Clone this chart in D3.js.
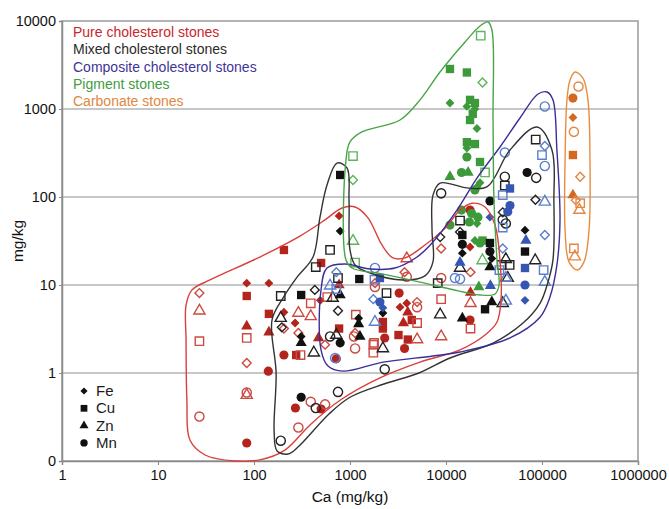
<!DOCTYPE html>
<html><head><meta charset="utf-8">
<script src="https://cdn.jsdelivr.net/npm/d3@7"></script>
<style>
html,body{margin:0;padding:0;background:#fff;}
svg{display:block;font-family:"Liberation Sans",Arial,sans-serif;}
</style></head>
<body><svg id="c" width="669" height="509"></svg>
<script>
// ---- data: [Ca mg/kg, value mg/kg, element, filled]
const pureChol = [
[27,8.1,"Fe",0],[27,5.1,"Zn",0],[27,2.3,"Cu",0],[27,0.32,"Mn",0],
[84,10.5,"Fe",1],[84,7.5,"Cu",1],[84,3.4,"Zn",1],[84,2.5,"Cu",0],[84,1.3,"Fe",0],[84,0.6,"Mn",0],[84,0.56,"Zn",0],[84,0.16,"Mn",1],
[141,1.05,"Mn",1],[270,0.40,"Mn",1],[290,0.24,"Mn",0],[390,0.47,"Mn",0],[500,0.39,"Mn",1],[550,0.44,"Mn",0],
[770,61,"Fe",1],[205,25,"Cu",1],[500,17.8,"Cu",1],[143,10.5,"Fe",1],[143,4.7,"Cu",1],[205,4.9,"Fe",1],[268,3.7,"Fe",1],
[290,4.8,"Zn",0],[390,6.2,"Cu",0],[390,4.4,"Zn",0],[490,6.7,"Fe",1],[143,2.9,"Zn",1],[290,2.85,"Fe",0],[470,2.5,"Zn",1],
[550,2.1,"Fe",0],[205,1.6,"Mn",1],[275,1.6,"Cu",1],[305,1.6,"Cu",0],[770,10,"Zn",1],[770,3.2,"Cu",1],[1150,4.6,"Cu",0],
[1130,2.85,"Fe",0],[1130,1.9,"Mn",0],[1780,2.2,"Cu",0],[720,1.45,"Mn",1],[205,3.2,"Fe",0],[580,7.3,"Cu",0],
[1820,9.5,"Mn",0],[1820,10.5,"Fe",0],[3250,8.1,"Mn",1],[3320,5.6,"Fe",1],[3900,6.2,"Fe",1],[4000,4.9,"Zn",1],[3600,3.7,"Zn",1],
[4400,4.0,"Cu",1],[5000,6.4,"Fe",0],[5000,5.6,"Mn",0],[5000,3.7,"Cu",0],[2200,3.8,"Cu",1],[2200,3.2,"Cu",1],[2300,2.5,"Mn",1],
[3200,2.7,"Cu",1],[4000,2.4,"Cu",1],[3700,1.9,"Mn",1],[5000,2.4,"Zn",0],[1750,2.1,"Cu",0],[1750,1.7,"Cu",0],
[3900,20,"Zn",0],[3700,14,"Fe",0],[3900,12.4,"Mn",0],[8900,26,"Fe",0],[8900,12,"Mn",0],[8900,6.9,"Cu",0],[8900,2.6,"Zn",0],
[17800,27,"Fe",1],[18000,14,"Fe",0],[18000,8.2,"Zn",1],[18000,6.2,"Zn",0],[17800,4.0,"Mn",1],[18000,3.2,"Cu",0],[17800,71,"Mn",1],[1100,2.6,"Mn",0]
];
const mixedChol = [
[790,178,"Cu",1],[790,41,"Fe",1],[620,25,"Cu",0],[440,16,"Cu",0],[750,12,"Cu",0],[1250,11.7,"Cu",1],[190,7.5,"Cu",0],[310,7.7,"Cu",1],
[430,8.8,"Fe",0],[660,7.1,"Zn",0],[790,7.7,"Zn",1],[750,5.1,"Fe",0],[190,4.2,"Zn",0],[195,3.3,"Fe",0],[310,2.6,"Fe",1],[310,2.2,"Zn",1],
[420,1.7,"Zn",0],[620,2.6,"Mn",0],[720,2.7,"Zn",0],[790,2.2,"Mn",1],[1230,4.2,"Fe",1],[1230,3.6,"Zn",1],[1270,2.6,"Zn",1],
[2200,4.8,"Fe",1],[2200,1.9,"Zn",0],[2400,8.1,"Cu",0],[2300,1.1,"Mn",0],[190,0.17,"Mn",0],[310,0.53,"Mn",1],[440,0.40,"Mn",0],[750,0.61,"Mn",0],
[8900,110,"Mn",0],[8700,35,"Fe",0],[14000,54,"Cu",0],[14000,40,"Fe",0],[14800,37,"Cu",1],[14800,29,"Mn",1],[14800,23,"Fe",1],
[8200,10.5,"Cu",0],[8700,4.6,"Zn",0],[14800,4.2,"Zn",1],[14000,15.6,"Zn",0],[28700,30,"Cu",1],[28700,24,"Mn",1],[30000,20,"Fe",1],
[28700,16,"Zn",1],[28700,90,"Mn",1],[30000,6.4,"Zn",1],[25500,5.3,"Cu",1],[39000,6.2,"Zn",0],[46000,16.9,"Cu",0],[38000,16.9,"Cu",0],
[42000,19.6,"Zn",0],[44000,12,"Zn",0],[39000,67,"Fe",0],[42000,50,"Mn",0],[41000,135,"Cu",0],[41000,170,"Mn",0],[70000,190,"Mn",1],
[87000,165,"Mn",0],[86000,450,"Cu",0],[85500,93,"Fe",0],[66500,42,"Fe",1],[66500,24,"Cu",1],[85000,19,"Zn",0],[39000,55,"Mn",0]
];
const compositeChol = [
[720,14,"Fe",0],[620,9.8,"Zn",0],[720,9,"Cu",0],[1800,11.5,"Cu",0],[2050,12,"Cu",1],[1820,15.6,"Mn",0],[1750,6.9,"Fe",0],
[2050,6.4,"Mn",1],[2200,5.5,"Fe",1],[1820,3.8,"Zn",0],[700,1.48,"Mn",0],[12400,12,"Mn",0],[14000,18,"Zn",1],[14000,11.7,"Mn",0],
[29000,9.8,"Zn",1],[39000,26,"Fe",0],[36000,14.8,"Cu",0],[42000,12,"Zn",0],[39000,45,"Cu",0],[39000,105,"Cu",0],[46400,125,"Cu",1],
[46400,80,"Mn",1],[44000,68,"Mn",1],[28700,59,"Fe",1],[41000,320,"Mn",0],[107000,1070,"Mn",0],[107000,380,"Fe",0],[100000,300,"Cu",0],
[107000,225,"Mn",0],[107000,88,"Zn",0],[107000,37,"Fe",0],[68000,32,"Zn",1],[66500,15.6,"Cu",1],[66500,10,"Mn",1],[66500,6.7,"Fe",1],
[107000,10.8,"Zn",0],[104000,14.8,"Cu",0],[42000,6.6,"Zn",0]
];
const pigment = [
[1075,292,"Cu",0],[1075,156,"Fe",0],[1075,31.6,"Zn",0],[1130,18,"Cu",0],[11000,170,"Zn",1],[11000,48,"Mn",1],[14500,190,"Mn",1],
[17000,190,"Zn",1],[22600,145,"Fe",1],[20000,120,"Mn",1],[18500,65,"Mn",1],[21500,59,"Mn",1],[17500,52,"Mn",1],[21000,50,"Fe",1],
[14500,71,"Mn",1],[20000,32,"Fe",1],[22600,30,"Mn",1],[24000,32,"Cu",1],[24000,19,"Zn",0],[22000,9.5,"Zn",1],[22600,250,"Cu",1],
[25500,190,"Cu",0],[16500,420,"Cu",1],[20000,400,"Cu",1],[16500,360,"Fe",1],[16500,285,"Mn",1],[11000,2850,"Cu",1],[16500,2600,"Cu",1],
[23000,6800,"Cu",0],[24000,2000,"Fe",0],[11000,1170,"Fe",1],[17800,1270,"Cu",1],[20000,1170,"Cu",1],[16500,1070,"Fe",1],
[20000,1000,"Fe",1],[19000,880,"Cu",1],[17800,750,"Cu",1],[21000,600,"Fe",1],[21000,130,"Fe",1]
];
const carbonate = [
[240000,1800,"Mn",0],[210000,1330,"Mn",1],[210000,800,"Fe",1],[215000,550,"Mn",0],[210000,300,"Cu",1],[250000,170,"Fe",0],
[210000,105,"Zn",1],[225000,92,"Fe",0],[250000,85,"Cu",0],[245000,71,"Zn",0],[215000,26,"Cu",0],[220000,21,"Zn",0]
];
// hull outlines [Ca, value]
const hullPure = [[19.6,5.9],[22.6,8.8],[34.8,11.4],[115,20.8],[301,36],[549,55],[826,75],[1130,77],[1540,58],[2150,28.5],[2800,20.3],
[3740,20.3],[6040,28.5],[9770,44],[14000,71],[18700,85],[25500,77],[32400,48],[36500,19.2],[37400,6.8],[34000,3.8],[25500,2.7],
[14000,1.83],[5360,1.33],[2050,0.88],[787,0.49],[383,0.257],[210,0.133],[115,0.103],[63,0.1],[30.9,0.117],[21.5,0.173],[20,0.49],[19.6,2.37]];
const hullMixed = [[733,243],[930,214],[977,92],[1000,25],[1130,16.9],[1620,13.7],[3570,11.4],[6040,12.7],[7320,18.3],[7150,42],[7320,105],
[8660,144],[16500,127],[26700,130],[46400,342],[88700,624],[127000,342],[133000,92],[130000,19.2],[113000,10],[95300,6.2],[63400,3.7],
[30900,2.19],[11000,1.48],[5230,1.0],[2260,0.75],[1000,0.53],[604,0.342],[287,0.144],[226,0.12],[174,0.13],[162,0.22],[170,1.0],
[154,4.0],[200,7.1],[281,12.3],[412,20.8],[487,59],[576,137]];
const hullComposite = [[576,15.6],[887,17.3],[1620,15.2],[2940,15.6],[4990,20.8],[7320,30.8],[13000,71],[21000,164],[36500,370],
[59000,790],[90800,1480],[113000,1560],[130000,1270],[143000,342],[154000,55],[143000,16.9],[121000,7.3],[95300,4.3],[46400,2.5],
[14000,1.73],[7320,1.56],[2210,1.33],[845,1.05],[590,1.2],[499,1.83],[499,8.8]];
const hullPigment = [[27400,9750],[30100,7900],[30900,750],[31600,92],[34000,19.2],[35700,10],[32400,7.9],[22600,7.7],[11000,9.0],
[5360,10.8],[2210,13.3],[1050,15.6],[908,19.2],[908,263],[1000,422],[1330,548],[3320,750],[5360,1270],[8660,2630],[15800,5770],[22600,8770]];
const hullCarbonate = [[221000,2630],[267000,2250],[301000,1270],[316000,263],[309000,42],[274000,18.3],[232000,14.8],[191000,18.3],
[174000,42],[174000,263],[182000,1270],[196000,2135]];
const xTicks = [1,10,100,1000,10000,100000,1000000];
const xTickLabels = ["1","10","100","1000","10000","100000","1000000"];
const yTicks = [0.1,1,10,100,1000,10000];
const yTickLabels = ["0","1","10","100","1000","10000"];
const groupNames = ["Pure cholesterol stones","Mixed cholesterol stones","Composite cholesterol stones","Pigment stones","Carbonate stones"];
const elements = ["Fe","Cu","Zn","Mn"];

// ---- styles
const groups = [
 {name:groupNames[0], data:pureChol, hull:hullPure, text:"#c8262b", line:"#d9403c", fill:"#b3241d", stroke:"#cc4a40"},
 {name:groupNames[1], data:mixedChol, hull:hullMixed, text:"#2b2b2b", line:"#333", fill:"#111", stroke:"#222"},
 {name:groupNames[2], data:compositeChol, hull:hullComposite, text:"#3f3496", line:"#3a2e99", fill:"#3556b2", stroke:"#5a7fd0"},
 {name:groupNames[3], data:pigment, hull:hullPigment, text:"#3f9c3f", line:"#49a448", fill:"#3d9a3a", stroke:"#5db45a"},
 {name:groupNames[4], data:carbonate, hull:hullCarbonate, text:"#e0883c", line:"#e88d3e", fill:"#d2691f", stroke:"#e38745"}
];
const drawOrder = [0,3,1,2,4];
const symType = {Fe:d3.symbolDiamond2, Cu:d3.symbolSquare, Zn:d3.symbolTriangle, Mn:d3.symbolCircle};
const symSize = {Fe:50, Cu:70, Zn:54, Mn:66};

const svg = d3.select("#c");
const L=62,R=638,T=21,B=461;
const x = d3.scaleLog().domain([1,1e6]).range([L,R]);
const y = d3.scaleLog().domain([0.1,10000]).range([B,T]);

// grid
svg.append("g").selectAll("line").data(yTicks.slice(1,-1)).join("line")
 .attr("x1",L).attr("x2",R).attr("y1",d=>y(d)).attr("y2",d=>y(d))
 .attr("stroke","#b4b4b4").attr("stroke-width",1.5);
svg.append("rect").attr("x",L).attr("y",T).attr("width",R-L).attr("height",B-T)
 .attr("fill","none").attr("stroke","#9a9a9a").attr("stroke-width",1.5);

// axes
const xAxis = d3.axisBottom(x).tickValues(xTicks).tickFormat((d,i)=>xTickLabels[i]).tickSize(4).tickPadding(3);
const gx = svg.append("g").attr("transform",`translate(0,${B})`).call(xAxis);
const yAxis = d3.axisLeft(y).tickValues(yTicks).tickFormat((d,i)=>yTickLabels[i]).tickSize(3).tickPadding(3);
const gy = svg.append("g").attr("transform",`translate(${L},0)`).call(yAxis);
[gx,gy].forEach(g=>{
 g.select(".domain").attr("stroke","#8a8a8a").attr("stroke-width",1.5);
 g.selectAll(".tick line").attr("stroke","#8a8a8a");
 g.selectAll("text").attr("font-size",14.5).attr("fill","#111").attr("font-family","'Liberation Sans',Arial,sans-serif");
});
gx.selectAll("text").attr("dy","0.85em");
svg.append("text").attr("x",(L+R)/2).attr("y",502).attr("text-anchor","middle").attr("font-size",15.5).attr("fill","#111").text("Ca (mg/kg)");
svg.append("text").attr("transform",`translate(23,${(T+B)/2}) rotate(-90)`).attr("text-anchor","middle").attr("font-size",15.5).attr("fill","#111").text("mg/kg");

// points
const sym = d3.symbol();
drawOrder.forEach(gi=>{
 const g = groups[gi];
 svg.append("g").selectAll("path").data(g.data).join("path")
  .attr("transform",d=>`translate(${x(d[0])},${y(d[1])})`)
  .attr("d",d=>sym.type(symType[d[2]]).size(symSize[d[2]])())
  .attr("fill",d=>d[3]?g.fill:"none")
  .attr("stroke",d=>d[3]?"none":g.stroke)
  .attr("stroke-width",1.4);
});

// hulls
const hullLine = d3.line().x(d=>x(d[0])).y(d=>y(d[1])).curve(d3.curveCatmullRomClosed.alpha(0.5));
groups.forEach(g=>{
 svg.append("path").attr("d",hullLine(g.hull)).attr("fill","none").attr("stroke",g.line).attr("stroke-width",1.4);
});

// legend
groups.forEach((g,i)=>{
 svg.append("text").attr("x",73).attr("y",37+i*17.3).attr("font-size",14).attr("fill",g.text).text(g.name);
});
elements.forEach((e,i)=>{
 const yy = 391+i*17.3;
 svg.append("path").attr("transform",`translate(84,${yy})`).attr("d",sym.type(symType[e]).size(symSize[e]*0.65)()).attr("fill","#111");
 svg.append("text").attr("x",96).attr("y",yy+5).attr("font-size",15).attr("fill","#1a1a1a").text(e);
});
</script></body></html>
